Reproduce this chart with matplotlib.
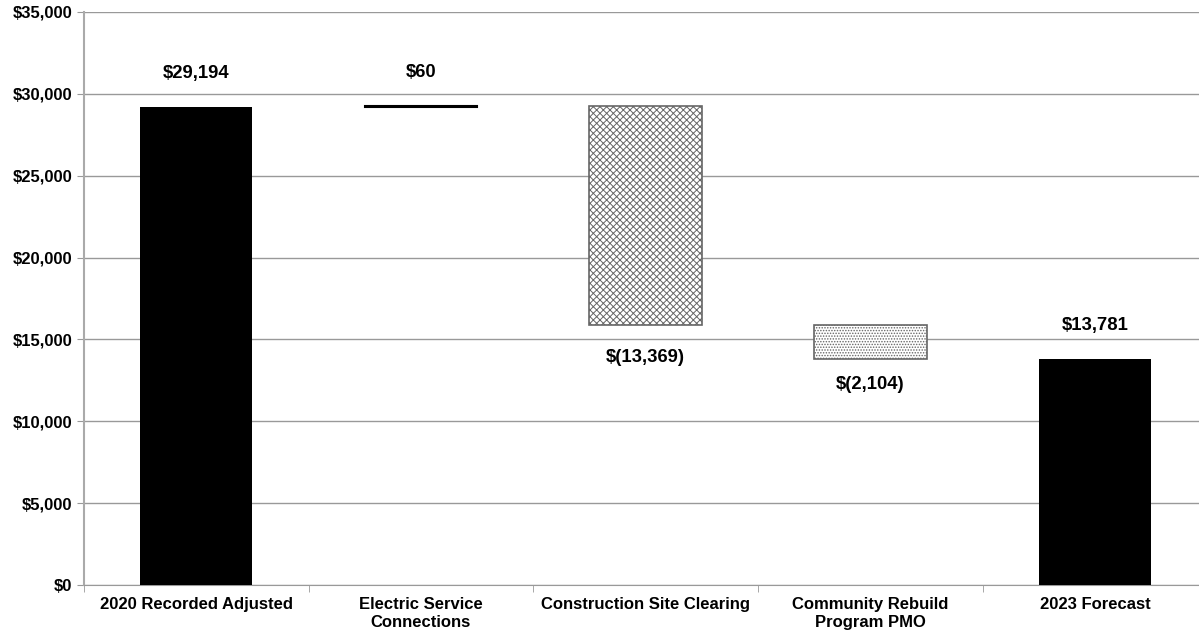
import numpy as np
import matplotlib
matplotlib.use("Agg")
from matplotlib import pyplot as plt
from matplotlib.ticker import FuncFormatter

plt.rcParams['font.family'] = ['Liberation Sans', 'DejaVu Sans']
plt.rcParams['font.weight'] = 'bold'

categories = ["2020 Recorded Adjusted", "Electric Service\nConnections",
              "Construction Site Clearing", "Community Rebuild\nProgram PMO",
              "2023 Forecast"]
changes = [29194, 60, -13369, -2104, 13781]
labels = ["$29,194", "$60", "$(13,369)", "$(2,104)", "$13,781"]
kinds = ["total", "delta", "delta", "delta", "total"]
hatches = [None, None, "xxxxx", "......", None]

# waterfall bases
bottoms = []
heights = []
running = 0
for v, k in zip(changes, kinds):
    if k == "total":
        bottoms.append(0)
        heights.append(v)
        running = v
    else:
        if v >= 0:
            bottoms.append(running)
        else:
            bottoms.append(running + v)
        heights.append(abs(v))
        running += v

fig = plt.figure(figsize=(11.99, 6.34), dpi=100)
ax = fig.add_axes([0.070, 0.0773, 0.937, 0.9038])
plt.rcParams['hatch.linewidth'] = 0.7

x = np.arange(len(categories))
for i in range(len(categories)):
    if kinds[i] == "total":
        ax.bar(x[i], heights[i], 0.5, bottom=bottoms[i], color="black", zorder=3)
    elif hatches[i] is None:
        ax.bar(x[i], heights[i], 0.5, bottom=bottoms[i], color="black",
               edgecolor="black", linewidth=1.5, zorder=3)
    else:
        ax.bar(x[i], heights[i], 0.5, bottom=bottoms[i], color="white",
               edgecolor="#666666", hatch=hatches[i], linewidth=1.2, zorder=3)

# label offsets (points) above positive / below negative bars
offs = [18, 18, -17, -12, 18]
for i in range(len(categories)):
    if changes[i] >= 0:
        ax.annotate(labels[i], (x[i], bottoms[i] + heights[i]), xytext=(0, offs[i]),
                    textcoords="offset points", ha="center", va="bottom",
                    fontsize=13.3, fontweight="bold")
    else:
        ax.annotate(labels[i], (x[i], bottoms[i]), xytext=(0, offs[i]),
                    textcoords="offset points", ha="center", va="top",
                    fontsize=13.3, fontweight="bold")

ax.set_xlim(-0.5, 4.5)
ax.set_ylim(0, 35000)
ax.set_yticks(np.arange(0, 35001, 5000))
ax.yaxis.set_major_formatter(FuncFormatter(lambda v, p: "${:,.0f}".format(v)))
ax.set_xticks(x)
ax.set_xticklabels(categories, fontsize=12, fontweight="bold")
ax.set_xticks(np.arange(-0.5, 5, 1), minor=True)
ax.tick_params(axis="x", which="major", length=0, pad=9)
ax.tick_params(axis="x", which="minor", length=5, color="#999999")
ax.tick_params(axis="y", labelsize=12, length=5, color="#999999")
for lbl in ax.get_yticklabels():
    lbl.set_fontweight("bold")
ax.grid(axis="y", color="#999999", linewidth=1, zorder=0)
ax.spines['right'].set_visible(False)
ax.spines['top'].set_visible(False)
ax.spines['left'].set_color("#aaaaaa")
ax.spines['bottom'].set_color("#999999")
ax.spines['left'].set_linewidth(1.5)

fig.savefig("out.png", dpi=100)
